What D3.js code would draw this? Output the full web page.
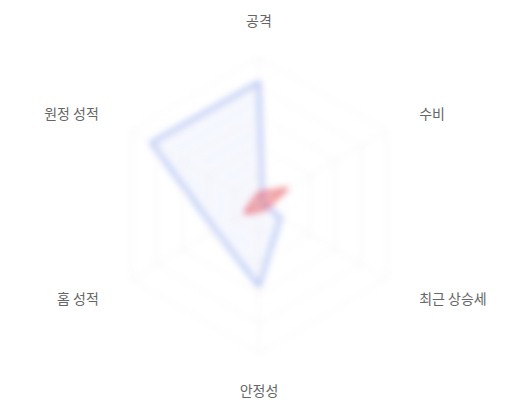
<!DOCTYPE html>
<html><head><meta charset="utf-8">
<script src="https://cdn.jsdelivr.net/npm/d3@7"></script>
<style>
html,body{margin:0;padding:0;background:#fff;}
svg{display:block;}
</style></head>
<body>
<svg id="chart" width="520" height="400"></svg>
<script>
const axes = ["공격", "수비", "최근 상승세", "안정성", "홈 성적", "원정 성적"];
const seriesA = [83, 3, 17, 55, 34, 84];
const seriesB = [8, 22, 5, 4, 11, 5];
const ticks = [20, 40, 60, 80, 100];

const cx = 259, cy = 205, R = 148, labelR = 185;
const svg = d3.select("#chart");
const defs = svg.append("defs");
defs.append("filter").attr("id", "blur").attr("x", "-20%").attr("y", "-20%").attr("width", "140%").attr("height", "140%")
  .append("feGaussianBlur").attr("stdDeviation", 3.5);

const r = d3.scaleLinear().domain([0, 100]).range([0, R]);
const ang = d3.scalePoint().domain(axes).range([0, 2 * Math.PI * (axes.length - 1) / axes.length]);
const pt = (a, v) => [cx + r(v) * Math.sin(ang(a)), cy - r(v) * Math.cos(ang(a))];

const plot = svg.append("g").attr("filter", "url(#blur)");
ticks.forEach(t => {
  plot.append("polygon")
    .attr("points", axes.map(a => pt(a, t).join(",")).join(" "))
    .attr("fill", "none").attr("stroke", "#efefef").attr("stroke-width", 1);
});
axes.forEach(a => {
  const p = pt(a, 100);
  plot.append("line").attr("x1", cx).attr("y1", cy).attr("x2", p[0]).attr("y2", p[1])
    .attr("stroke", "#efefef").attr("stroke-width", 1);
});
const line = d3.lineRadial().angle((d, i) => ang(axes[i])).radius(d => r(d)).curve(d3.curveLinearClosed);
plot.append("path").datum(seriesA).attr("transform", `translate(${cx},${cy})`).attr("d", line)
  .attr("fill", "rgba(80,120,230,0.06)").attr("stroke", "#5a80e6").attr("stroke-width", 3).attr("stroke-opacity", 0.6).attr("stroke-linejoin", "round");
plot.append("path").datum(seriesB).attr("transform", `translate(${cx},${cy})`).attr("d", line)
  .attr("fill", "rgba(232,80,90,0.4)").attr("stroke", "#e85a63").attr("stroke-width", 3).attr("stroke-opacity", 0.8).attr("stroke-linejoin", "round");

axes.forEach(a => {
  const t = ang(a);
  const x = cx + labelR * Math.sin(t), y = cy - labelR * Math.cos(t);
  const s = Math.sin(t);
  const anchor = Math.abs(s) < 0.01 ? "middle" : (s > 0 ? "start" : "end");
  svg.append("text").attr("x", x).attr("y", y)
    .attr("text-anchor", anchor).attr("dominant-baseline", "central")
    .attr("font-family", "'Noto Sans CJK KR', 'Noto Sans', sans-serif").attr("font-size", 14)
    .attr("fill", "#666").text(a);
});
</script>
</body></html>
